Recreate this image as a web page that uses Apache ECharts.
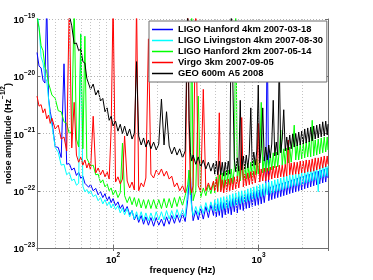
<!DOCTYPE html>
<html><head><meta charset="utf-8">
<script src="https://cdn.jsdelivr.net/npm/echarts@6/dist/echarts.min.js"></script>
<style>html,body{margin:0;padding:0;background:#fff}#c{width:373px;height:280px}</style>
</head><body><div id="c"></div>
<script>
// frequency samples (Hz) shared by all spectra
const freq = [30,31,32,33,34,35,36,37,38,40,42,44,46,48,50,52,54,56,58,60,62,64,66,68,70,73,76,79,82,85,88,91,94,97,100,
104,108,112,116,120,125,130,135,140,145,150,156,162,168,175,182,190,198,206,215,224,233,243,253,264,275,287,300,313,326,333,340,347,355,370,385,400,417,434,452,470,490,
500,512,524,537,550,563,576,590,604,619,634,649,665,681,697,714,731,748,766,785,804,823,843,863,884,905,927,949,972,995,1019,1043,1068,1094,1120,1147,1175,1203,1232,1261,1292,1323,1354,1387,1420,1454,1489,1525,1561,1599,1637,1676,1717,1758,1800,1843,1887,1933,1979,2027,2075,2125,2176,2229,2282,2337,2393,2451,2509,2570,2631,2695,2759,2826,2893,2963,3000];

// noise amplitude (Hz^-1/2)
const hanford4 = [2.6e-20,1.5e-20,1.4e-20,8.5e-21,7.6e-21,2e-19,4.1e-21,2.4e-21,1.65e-21,5.9e-22,
5.7e-22,3.8e-22,1.65e-20,2.9e-22,3.0e-22,2.3e-22,2.5e-22,1.85e-22,2.1e-22,1.65e-22,
1.8e-22,1.35e-22,1.45e-22,1.15e-22,1.3e-22,1.0e-22,1.1e-22,8.5e-23,9.6e-23,7.6e-23,
8.9e-23,6.7e-23,7.9e-23,6.2e-23,7.3e-23,5.5e-23,6.4e-23,4.9e-23,5.7e-23,4.3e-23,
5.3e-23,3.8e-23,4.5e-23,3.1e-23,3.8e-23,2.8e-23,3.7e-23,2.6e-23,3.5e-23,2.5e-23,
3.4e-23,2.4e-23,3.4e-23,2.5e-23,3.2e-23,2.4e-23,3.5e-23,2.6e-23,3.7e-23,2.7e-23,
3.8e-23,2.8e-23,4.0e-23,2.9e-23,7.0e-23,1.5e-22,2.0e-22,5.7e-23,3.0e-23,4.5e-23,
3.1e-23,4.9e-23,3.2e-23,5.3e-23,3.4e-23,5.7e-23,3.7e-23,6.2e-23,3.5e-23,5.9e-23,
3.7e-23,6.4e-23,3.4e-23,6.2e-23,3.8e-23,7.0e-23,4.0e-23,6.7e-23,3.8e-23,7.3e-23,
4.3e-23,7.6e-23,4.1e-23,7.9e-23,4.7e-23,8.2e-23,4.5e-23,8.5e-23,4.9e-23,8.9e-23,
5.0e-23,9.2e-23,5.3e-23,9.6e-23,5.5e-23,1.0e-22,5.7e-23,1.03e-22,5.9e-23,1.08e-22,
6.2e-23,1.12e-22,6.4e-20,6.7e-23,1.17e-22,7.0e-23,1.22e-22,7.3e-23,1.27e-22,7.6e-23,
1.32e-22,7.9e-23,1.37e-22,8.2e-23,1.42e-22,8.5e-23,1.48e-22,8.9e-23,1.55e-22,9.2e-23,
1.6e-22,9.6e-23,1.67e-22,1.0e-22,1.75e-22,1.03e-22,1.8e-22,1.08e-22,1.9e-22,1.12e-22,
1.95e-22,1.17e-22,2.05e-22,1.22e-22,2.15e-22,1.27e-22,2.2e-22,1.32e-22,2.3e-22,1.37e-22,
2.4e-22,1.42e-22,2.5e-22,1.67e-22];

const livingston4 = [1.4e-19,7.0e-20,2.2e-20,1.7e-20,9.6e-21,8.2e-21,4.1e-21,1.85e-21,1.4e-21,5.7e-22,
4.7e-22,2.8e-22,2.9e-22,1.9e-22,2.1e-22,1.5e-22,1.6e-22,1.25e-22,1.35e-22,5.5e-20,
1.2e-22,9.6e-23,1.05e-22,8.9e-23,1.0e-22,7.9e-23,8.5e-23,6.7e-23,7.6e-23,5.9e-23,
7.0e-23,5.5e-23,6.4e-23,5.0e-23,5.9e-23,4.7e-23,5.5e-23,4.1e-23,5.0e-23,3.8e-23,
4.9e-23,3.5e-23,4.5e-23,3.2e-23,4.3e-23,3.1e-23,4.3e-23,3.0e-23,4.1e-23,3.0e-23,
4.1e-23,3.0e-23,4.3e-23,3.1e-23,4.3e-23,3.1e-23,4.5e-23,3.2e-23,4.5e-23,3.2e-23,
4.7e-23,3.4e-23,4.7e-23,3.5e-23,1.03e-22,2.3e-22,8.5e-23,5.0e-23,3.7e-23,5.3e-23,
3.8e-23,5.7e-23,4.0e-23,6.2e-23,4.3e-23,6.4e-23,4.5e-23,7.0e-23,4.3e-23,7.3e-23,
4.5e-23,7.6e-23,4.7e-23,7.9e-23,4.9e-23,8.2e-23,5.0e-23,8.5e-23,5.3e-23,8.9e-23,
5.5e-23,9.2e-23,5.7e-23,9.6e-23,5.9e-23,1.0e-22,6.2e-23,1.03e-22,6.4e-23,1.08e-22,
6.7e-23,1.12e-22,7.0e-23,1.17e-22,7.3e-23,1.22e-22,7.6e-23,1.27e-22,7.9e-23,1.32e-22,
8.2e-23,1.37e-22,8.5e-23,1.42e-22,8.9e-23,1.48e-22,9.2e-23,1.55e-22,9.6e-23,1.6e-22,
1.0e-22,1.67e-22,1.03e-22,1.75e-22,1.08e-22,1.8e-22,1.12e-22,1.9e-22,1.17e-22,1.9e-22,
1.22e-22,1.95e-22,1.22e-22,2.05e-22,1.27e-22,2.15e-22,1.32e-22,2.2e-22,1.37e-22,2.3e-22,
1.42e-22,2.4e-22,1.48e-22,2.5e-22,1.55e-22,2.6e-22,9.6e-23,2.7e-22,1.67e-22,2.8e-22,
1.75e-22,2.9e-22,1.8e-22,2.7e-22];

const hanford2 = [1.08e-19,7.0e-20,3.4e-20,2.8e-20,1.45e-20,1.2e-20,7.6e-21,7.3e-21,4.7e-21,4.1e-21,
2.5e-21,2.4e-21,1.6e-21,1.5e-21,1.0e-21,1.1e-21,2e-19,8.0e-22,5.8e-22,5.5e-20,
5.4e-22,5.0e-20,3.7e-22,3.9e-22,2.7e-22,2.8e-22,1.9e-22,1.95e-22,1.37e-22,1.55e-22,
1.17e-22,1.32e-22,1.0e-22,1.12e-22,8.5e-23,1.03e-22,7.6e-23,9.2e-23,6.8e-22,8.2e-23,
6.2e-23,7.9e-23,5.7e-23,7.6e-23,5.3e-23,7.3e-23,5.0e-23,7.0e-23,4.9e-23,7.0e-23,
4.9e-23,7.0e-23,4.9e-23,7.0e-23,4.9e-23,7.3e-23,5.0e-23,7.3e-23,5.0e-23,7.6e-23,
5.3e-23,7.9e-23,5.5e-23,8.2e-23,1.27e-22,2.3e-22,8.5e-23,2e-19,6.7e-23,1.0e-22,
4.5e-21,7.6e-23,1.12e-22,8.2e-23,1.27e-22,8.9e-23,1.42e-22,9.2e-23,1.75e-22,1.0e-22,
1.9e-22,1.03e-22,2.05e-22,1.12e-22,2.2e-22,1.22e-22,2.3e-22,1.27e-22,2.4e-22,1.32e-22,
2.5e-22,2e-19,1.42e-22,2.7e-22,1.48e-22,2.8e-22,1.55e-22,2.9e-22,1.6e-22,3.05e-22,
1.67e-22,3.15e-22,1.75e-22,3.45e-22,1.9e-22,3.6e-22,1.95e-22,3.75e-22,3.5e-21,2.05e-22,
3.9e-22,2.15e-22,4.2e-22,2.2e-22,4.4e-22,2.3e-22,4.6e-22,2.5e-22,4.75e-22,2.6e-22,
4.95e-22,1.15e-21,2.8e-22,5.4e-22,2.9e-22,5.6e-22,3.05e-22,5.8e-22,3.15e-22,6.05e-22,
1.4e-21,3.45e-22,6.3e-22,3.45e-22,6.55e-22,3.6e-22,6.8e-22,3.75e-22,7.1e-22,3.9e-22,
7.4e-22,3.9e-22,1.7e-21,4.05e-22,7.7e-22,4.2e-22,8.0e-22,4.4e-22,8.35e-22,4.6e-22,
8.7e-22,4.75e-22,8.7e-22,5.15e-22];

const virgo3 = [4.5e-21,3.0e-21,3.2e-21,2.3e-21,2.7e-21,1.8e-21,2.1e-21,1.5e-21,1.85e-21,1.2e-21,
1.4e-21,8.0e-22,8.7e-22,4.95e-22,2e-19,5.6e-22,3.5e-21,4.2e-22,3.15e-22,3.9e-22,
2.8e-22,3.45e-22,2.5e-22,3.05e-22,2.3e-22,2.0e-21,2.05e-22,2.5e-22,1.9e-22,2.3e-22,
1.75e-22,2.15e-22,1.6e-22,1.2e-21,2e-19,1.42e-22,1.75e-22,1.32e-22,1.6e-22,9.05e-22,
1.48e-22,1.12e-22,1.42e-22,1.03e-22,2e-19,1.0e-22,1.37e-22,1.17e-22,1.67e-22,4.5e-20,
1.95e-22,1.67e-22,2.3e-22,1.9e-22,2.4e-22,1.8e-22,2.2e-22,1.6e-22,1.8e-22,1.17e-22,
1.37e-22,1.0e-22,1.22e-22,9.2e-23,2e-19,1.15e-21,1.17e-22,9.2e-23,1.22e-22,2e-19,
1.22e-22,9.6e-23,5.9e-21,1.0e-22,1.37e-22,1.03e-22,1.48e-22,1.0e-22,1.6e-22,9.6e-23,
2.3e-21,9.6e-23,1.55e-22,9.2e-23,1.55e-22,9.6e-23,1.6e-22,1.0e-22,1.67e-22,1.03e-22,
1.75e-22,1.08e-22,1.8e-22,1.12e-22,1.9e-22,1.9e-21,1.17e-22,1.95e-22,1.22e-22,2.05e-22,
1.27e-22,2.15e-22,1.32e-22,2.2e-22,1.37e-22,2.3e-22,1.5e-21,1.42e-22,2.4e-22,1.48e-22,
2.5e-22,1.48e-22,2.5e-22,1.55e-22,2.6e-22,1.6e-22,2.7e-22,1.67e-22,2.7e-22,1.67e-22,
2.8e-22,1.75e-22,2.8e-22,1.75e-22,2.9e-22,1.8e-22,7.7e-22,1.9e-22,3.05e-22,1.9e-22,
3.15e-22,1.95e-22,3.15e-22,1.95e-22,3.3e-22,2.05e-22,3.3e-22,2.05e-22,3.45e-22,2.15e-22,
3.45e-22,2.15e-22,3.6e-22,2.2e-22,3.75e-22,2.3e-22,3.75e-22,2.4e-22,3.9e-22,2.5e-22,
4.05e-22,2.6e-22,4.05e-22,2.9e-22];

const geo600 = [6e-19,5.5e-19,5e-19,4.6e-19,4.2e-19,3.9e-19,3.6e-19,3.3e-19,3.1e-19,2.7e-19,
2.4e-19,2.1e-19,1.85e-19,1.6e-19,1.17e-19,7.6e-20,3.7e-20,3.8e-20,2.8e-20,3.0e-20,
1.8e-20,1.7e-20,9.2e-21,9.6e-21,5.9e-21,7.3e-21,4.7e-21,5.7e-21,3.7e-21,4.1e-21,
2.4e-21,2.8e-21,1.7e-21,2.0e-21,1.35e-21,1.65e-21,1.1e-21,1.45e-21,1.0e-21,1.35e-21,
9.05e-22,1.2e-21,8.0e-22,1.0e-21,1.8e-20,9.05e-22,6.3e-22,8.35e-22,5.8e-22,7.7e-22,
5.4e-22,7.1e-22,5.15e-22,6.55e-22,4.0e-21,6.3e-22,2.4e-21,6.05e-22,4.4e-22,5.8e-22,
4.2e-22,5.4e-22,3.75e-22,4.95e-22,2e-19,1.7e-21,4.6e-22,3.3e-22,4.2e-22,2.9e-22,
3.9e-22,2.6e-22,3.45e-22,2.4e-22,3.15e-22,2.2e-22,3.05e-22,1.95e-22,3.3e-22,1.9e-22,
3.3e-22,1.9e-22,3.15e-22,1.8e-22,3.15e-22,1.9e-22,3.3e-22,1.95e-22,2e-19,2e-19,
3.6e-22,2.15e-22,3.75e-22,2.2e-22,3.8e-21,2.3e-22,4.05e-22,2.4e-22,4.2e-22,2.5e-22,
4.4e-22,2.8e-21,2.7e-22,4.75e-22,2.8e-22,4.95e-22,7.0e-21,3.05e-22,5.4e-22,2.8e-21,
3.3e-22,5.8e-22,3.45e-22,6.3e-22,3.75e-22,6.55e-22,3.8e-21,4.05e-22,7.1e-22,4.2e-22,
1.9e-20,4.6e-22,8.0e-22,2.6e-21,4.95e-22,8.7e-22,5.15e-22,9.4e-22,5.4e-22,9.8e-22,
5.8e-22,1.0e-21,6.05e-22,1.06e-21,6.3e-22,1.1e-21,6.55e-22,1.2e-21,6.8e-22,1.25e-21,
7.1e-22,1.3e-21,7.4e-22,1.35e-21,8.0e-22,1.4e-21,8.35e-22,1.46e-21,8.7e-22,1.6e-21,
9.05e-22,1.65e-21,9.4e-22,1.46e-21];

const seriesNames = ['LIGO Hanford 4km 2007-03-18','LIGO Livingston 4km 2007-08-30','LIGO Hanford 2km 2007-05-14','Virgo 3km 2007-09-05','GEO 600m A5 2008'];
const seriesValues = [hanford4, livingston4, hanford2, virgo3, geo600];
const seriesColors = ['#0000ff','#00ffff','#00ff00','#ff0000','#000000'];

// tick labels and grid positions
const xTickValues = [100, 1000];
const yTickValues = [1e-23, 1e-22, 1e-21, 1e-20, 1e-19];
const xMinorGrid = [40,50,60,70,80,90,200,300,400,500,600,700,800,900,2000];
const yMinorGrid = [2e-23,3e-23,4e-23,5e-23,6e-23,7e-23,8e-23,9e-23,
  2e-22,3e-22,4e-22,5e-22,6e-22,7e-22,8e-22,9e-22,
  2e-21,3e-21,4e-21,5e-21,6e-21,7e-21,8e-21,9e-21,
  2e-20,3e-20,4e-20,5e-20,6e-20,7e-20,8e-20,9e-20];

const FONT = '"Liberation Sans", Arial, Helvetica, sans-serif';
function powLabel(v){
  const e = Math.log10(v), r = Math.round(e);
  if (Math.abs(e - r) > 1e-6) return '';
  return '{b|10}{s|' + (r < 0 ? '\u2212' + (-r) : r) + '}';
}
const richPow = {
  b: {fontFamily: FONT, fontSize: 9.5, fontWeight: 'bold', color: '#000', lineHeight: 13, verticalAlign: 'bottom'},
  s: {fontFamily: FONT, fontSize: 6.5, fontWeight: 'bold', color: '#000', lineHeight: 8, verticalAlign: 'top'}
};
const gridLine = {show: true, lineStyle: {color: '#b4b4b4', type: [1, 2], width: 1}};
const axLine = {show: true, lineStyle: {color: '#6e6e6e', width: 1}};
const tick = {show: true, inside: true, length: 3, lineStyle: {color: '#6e6e6e'}};

const chart = echarts.init(document.getElementById('c'), null, {renderer: 'canvas'});
const series = [{
  type: 'line', data: [], silent: true, animation: false, z: 1,
  markLine: {silent: true, animation: false, symbol: ['none','none'], label: {show: false},
    lineStyle: {color: '#c4c4c4', type: [1, 2], width: 1},
    emphasis: {disabled: true},
    data: xMinorGrid.map(v => ({xAxis: v})).concat(yMinorGrid.map(v => ({yAxis: v})))}
}];
seriesNames.forEach((name, i) => {
  series.push({
    type: 'line', name: name,
    data: freq.map((f, j) => [f, seriesValues[i][j]]),
    showSymbol: false, symbol: 'none', silent: true, animation: false, clip: true,
    color: seriesColors[i],
    lineStyle: {width: 1, color: seriesColors[i]},
    itemStyle: {color: seriesColors[i]},
    z: 2
  });
});

chart.setOption({
  animation: false,
  backgroundColor: '#fff',
  grid: {left: 37, right: 45, top: 19, bottom: 32, containLabel: false, outerBoundsMode: 'none'},
  legend: {
    z: 50, zlevel: 0,
    orient: 'vertical', left: 149, top: 21, padding: [3, 4, 3, 3], itemGap: 0,
    itemWidth: 21, itemHeight: 1.5, icon: 'rect', selectedMode: false,
    backgroundColor: '#fff', borderColor: '#6e6e6e', borderWidth: 1, borderRadius: 0,
    textStyle: {fontFamily: FONT, fontSize: 9.4, fontWeight: 'bold', color: '#000', lineHeight: 11},
    data: seriesNames
  },
  xAxis: [{
    type: 'log', logBase: 10, min: 30, max: 3000, position: 'bottom',
    name: 'frequency (Hz)', nameLocation: 'middle', nameGap: 17, nameMoveOverlap: false,
    nameTextStyle: {fontFamily: FONT, fontSize: 9.5, fontWeight: 'bold', color: '#000'},
    axisLine: axLine, axisTick: tick,
    axisLabel: {show: true, margin: 4, formatter: powLabel, rich: richPow, customValues: xTickValues, hideOverlap: false},
    splitLine: gridLine, minorTick: {show: false}
  }, {
    type: 'log', logBase: 10, min: 30, max: 3000, position: 'top',
    axisLine: axLine, axisTick: tick,
    axisLabel: {show: false}, splitLine: {show: false}
  }],
  yAxis: [{
    type: 'log', logBase: 10, min: 1e-23, max: 1e-19, position: 'left',
    name: '{n|noise amplitude (Hz}{s|\u22121/2}{n|)}', nameLocation: 'middle', nameGap: 24, nameMoveOverlap: false,
    nameTextStyle: {rich: {
      n: {fontFamily: FONT, fontSize: 9, fontWeight: 'bold', color: '#000', lineHeight: 13, verticalAlign: 'bottom'},
      s: {fontFamily: FONT, fontSize: 6.5, fontWeight: 'bold', color: '#000', lineHeight: 8, verticalAlign: 'top'}
    }},
    axisLine: axLine, axisTick: tick,
    axisLabel: {show: true, margin: 2, formatter: powLabel, rich: richPow, customValues: yTickValues, hideOverlap: false},
    splitLine: gridLine
  }, {
    type: 'log', logBase: 10, min: 1e-23, max: 1e-19, position: 'right',
    axisLine: axLine, axisTick: tick,
    axisLabel: {show: false}, splitLine: {show: false}
  }],
  series: series
});
</script>
</body></html>
